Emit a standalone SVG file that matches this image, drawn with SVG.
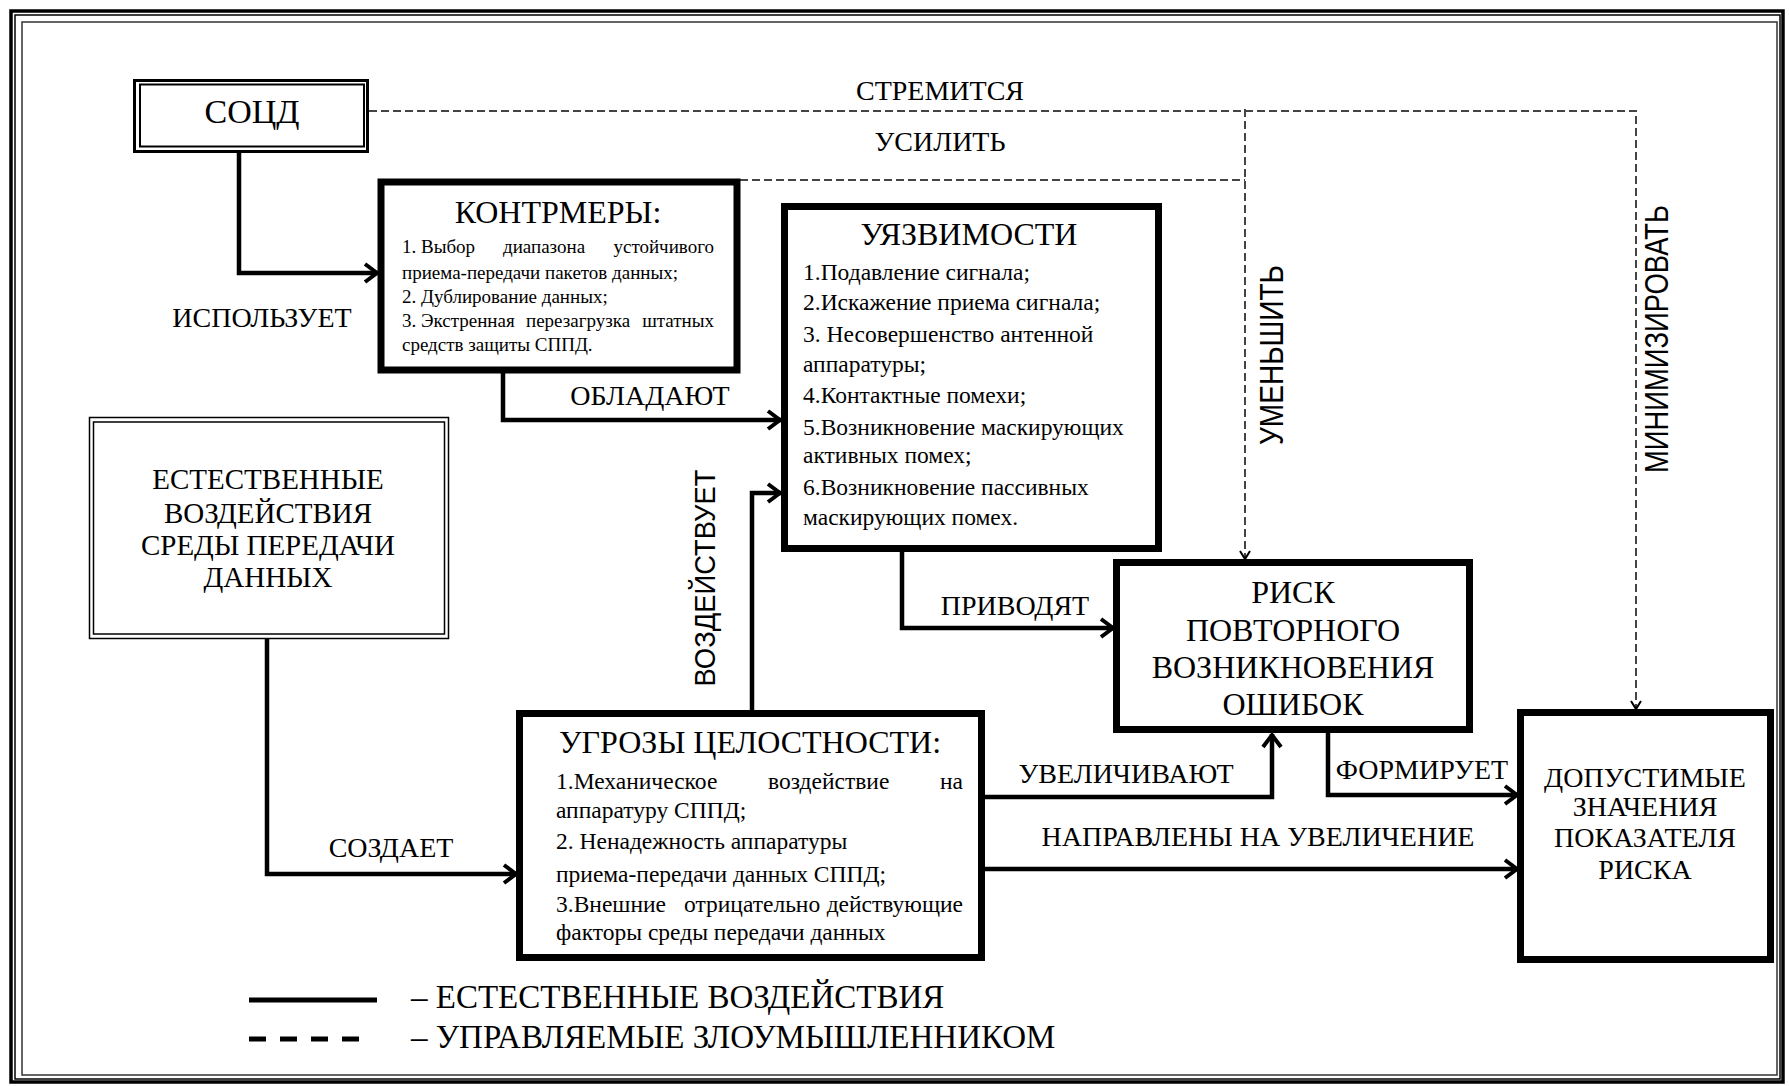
<svg xmlns="http://www.w3.org/2000/svg" width="1789" height="1086" viewBox="0 0 1789 1086">
<style>
text{font-family:"Liberation Serif","DejaVu Serif","Times New Roman",serif;fill:#000}
text.s{font-family:"Liberation Sans","DejaVu Sans",Arial,sans-serif}
.box{fill:#fff;stroke:#000;stroke-width:7}
.dbl{fill:none;stroke:#000}
.con{fill:none;stroke:#000;stroke-width:4.5}
.dash{fill:none;stroke:#444;stroke-width:2;stroke-dasharray:8 4}
.lbl{font-size:28px;text-anchor:middle}
.ttl{font-size:32px;text-anchor:middle}
.b{font-size:19px}
.b2{font-size:23.5px}
.e{text-anchor:end}
</style>
<defs>
<marker id="ah" markerUnits="userSpaceOnUse" markerWidth="24" markerHeight="24" viewBox="0 0 24 24" refX="20" refY="12" orient="auto">
<path d="M7,3 L19,12 L7,21" fill="none" stroke="#000" stroke-width="4"/>
</marker>
<marker id="ahs" markerUnits="userSpaceOnUse" markerWidth="14" markerHeight="14" viewBox="0 0 14 14" refX="12" refY="7" orient="auto">
<path d="M4,2 L12,7 L4,12" fill="none" stroke="#000" stroke-width="2"/>
</marker>
</defs>
<rect width="1789" height="1086" fill="#fff"/>
<g id="frame">
<rect x="11" y="11" width="1772" height="1071" fill="none" stroke="#000" stroke-width="3.5"/>
<rect x="15" y="15" width="1765" height="1064" fill="none" stroke="#000" stroke-width="1.5"/>
<rect x="22" y="22" width="1755" height="1053" fill="none" stroke="#333" stroke-width="1.5"/>
</g>
<g id="connectors">
<path class="con" d="M239,152 V273 H378" marker-end="url(#ah)"/>
<path class="con" d="M503,373 V420 H781" marker-end="url(#ah)"/>
<path class="con" d="M752,710 V493 H781" marker-end="url(#ah)"/>
<path class="con" d="M267,639 V874 H517" marker-end="url(#ah)"/>
<path class="con" d="M902,552 V628 H1114" marker-end="url(#ah)"/>
<path class="con" d="M985,797 H1272 V734" marker-end="url(#ah)"/>
<path class="con" d="M1328,733 V795 H1518" marker-end="url(#ah)"/>
<path class="con" d="M985,869 H1518" marker-end="url(#ah)"/>
<path class="dash" d="M369,111 H1636 V709" marker-end="url(#ahs)"/>
<path class="dash" d="M1245,109 V559" marker-end="url(#ahs)"/>
<path class="dash" d="M740,180 H1245"/>
<text class="lbl" font-size="27" x="940" y="100">СТРЕМИТСЯ</text>
<text class="lbl" font-size="27.5" x="940" y="151">УСИЛИТЬ</text>
<text class="lbl" font-size="28.5" x="262" y="327">ИСПОЛЬЗУЕТ</text>
<text class="lbl" x="650" y="405">ОБЛАДАЮТ</text>
<text class="lbl" x="391" y="857">СОЗДАЕТ</text>
<text class="lbl" x="1015" y="615">ПРИВОДЯТ</text>
<text class="lbl" x="1126" y="783">УВЕЛИЧИВАЮТ</text>
<text class="lbl" x="1422" y="779">ФОРМИРУЕТ</text>
<text class="lbl" font-size="28.7" x="1258" y="846">НАПРАВЛЕНЫ НА УВЕЛИЧЕНИЕ</text>
<text class="s" font-size="30" text-anchor="middle" textLength="217" lengthAdjust="spacingAndGlyphs" transform="translate(715,578) rotate(-90)">ВОЗДЕЙСТВУЕТ</text>
<text class="s" font-size="33" text-anchor="middle" textLength="180" lengthAdjust="spacingAndGlyphs" transform="translate(1283,355) rotate(-90)">УМЕНЬШИТЬ</text>
<text class="s" font-size="33" text-anchor="middle" textLength="268" lengthAdjust="spacingAndGlyphs" transform="translate(1668,339) rotate(-90)">МИНИМИЗИРОВАТЬ</text>
</g>
<g id="socd">
<rect x="134.5" y="80.5" width="233" height="71" class="dbl" stroke-width="3" fill="#fff"/>
<rect x="140" y="84.5" width="224" height="62" class="dbl" stroke-width="2"/>
<text font-size="34" text-anchor="middle" x="252" y="123">СОЦД</text>
</g>
<g id="kontrmery">
<rect class="box" x="381" y="182" width="356" height="188"/>
<text class="ttl" x="558" y="223">КОНТРМЕРЫ:</text>
<text class="b" x="402" y="253">1. Выбор</text>
<text class="b" x="503" y="253">диапазона</text>
<text class="b e" x="714" y="253">устойчивого</text>
<text class="b" x="402" y="279">приема-передачи пакетов данных;</text>
<text class="b" x="402" y="303">2. Дублирование данных;</text>
<text class="b" x="402" y="327">3. Экстренная</text>
<text class="b" x="526" y="327">перезагрузка</text>
<text class="b e" x="714" y="327">штатных</text>
<text class="b" x="402" y="351">средств защиты СППД.</text>
</g>
<g id="uyazvimosti">
<rect class="box" x="784.5" y="206.5" width="374" height="342"/>
<text class="ttl" font-size="31" x="969" y="245">УЯЗВИМОСТИ</text>
<text class="b2" x="803" y="280">1.Подавление сигнала;</text>
<text class="b2" x="803" y="310">2.Искажение приема сигнала;</text>
<text class="b2" x="803" y="342">3. Несовершенство антенной</text>
<text class="b2" x="803" y="372">аппаратуры;</text>
<text class="b2" x="803" y="403">4.Контактные помехи;</text>
<text class="b2" x="803" y="435">5.Возникновение маскирующих</text>
<text class="b2" x="803" y="463">активных помех;</text>
<text class="b2" x="803" y="495">6.Возникновение пассивных</text>
<text class="b2" x="803" y="525">маскирующих помех.</text>
</g>
<g id="estestvennye">
<rect x="89.5" y="417.5" width="359" height="221" class="dbl" stroke-width="1.5" fill="#fff"/>
<rect x="93.5" y="422" width="351" height="212" class="dbl" stroke-width="1.5"/>
<text font-size="29" text-anchor="middle" x="268" y="489">ЕСТЕСТВЕННЫЕ</text>
<text font-size="29" text-anchor="middle" x="268" y="523">ВОЗДЕЙСТВИЯ</text>
<text font-size="29" text-anchor="middle" x="268" y="555">СРЕДЫ ПЕРЕДАЧИ</text>
<text font-size="29" text-anchor="middle" x="268" y="587">ДАННЫХ</text>
</g>
<g id="risk">
<rect class="box" x="1116.5" y="562.5" width="353" height="167"/>
<text class="ttl" font-size="33" x="1293" y="603">РИСК</text>
<text class="ttl" font-size="33" x="1293" y="641">ПОВТОРНОГО</text>
<text class="ttl" font-size="33" x="1293" y="678">ВОЗНИКНОВЕНИЯ</text>
<text class="ttl" font-size="33" x="1293" y="715">ОШИБОК</text>
</g>
<g id="ugrozy">
<rect class="box" x="519.5" y="713.5" width="462" height="244"/>
<text class="ttl" font-size="32.3" x="750" y="753">УГРОЗЫ ЦЕЛОСТНОСТИ:</text>
<text class="b2" x="556" y="789">1.Механическое</text>
<text class="b2" x="768" y="789">воздействие</text>
<text class="b2 e" x="963" y="789">на</text>
<text class="b2" x="556" y="818">аппаратуру СППД;</text>
<text class="b2" x="556" y="849">2. Ненадежность аппаратуры</text>
<text class="b2" x="556" y="882">приема-передачи данных СППД;</text>
<text class="b2" x="556" y="912">3.Внешние</text>
<text class="b2" x="684" y="912">отрицательно</text>
<text class="b2 e" x="963" y="912">действующие</text>
<text class="b2" x="556" y="940">факторы среды передачи данных</text>
</g>
<g id="dopustimye">
<rect class="box" x="1520.5" y="712.5" width="250" height="247"/>
<text font-size="28" text-anchor="middle" x="1645" y="787">ДОПУСТИМЫЕ</text>
<text font-size="28" text-anchor="middle" x="1645" y="816">ЗНАЧЕНИЯ</text>
<text font-size="28" text-anchor="middle" x="1645" y="847">ПОКАЗАТЕЛЯ</text>
<text font-size="28" text-anchor="middle" x="1645" y="879">РИСКА</text>
</g>
<g id="legend">
<line x1="249" y1="1000" x2="377" y2="1000" stroke="#000" stroke-width="5"/>
<line x1="249" y1="1039" x2="365" y2="1039" stroke="#000" stroke-width="5" stroke-dasharray="17 14"/>
<text font-size="33" x="411" y="1008">– ЕСТЕСТВЕННЫЕ ВОЗДЕЙСТВИЯ</text>
<text font-size="33" x="411" y="1048">– УПРАВЛЯЕМЫЕ ЗЛОУМЫШЛЕННИКОМ</text>
</g>
</svg>
